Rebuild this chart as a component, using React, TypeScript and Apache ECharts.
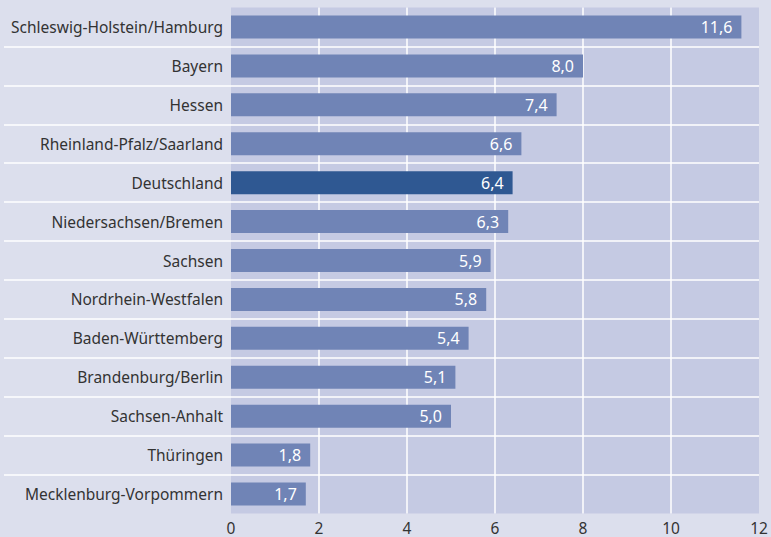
import React, { useEffect, useRef } from "react";
import * as echarts from "echarts";

const categories = [
  "Schleswig-Holstein/Hamburg",
  "Bayern",
  "Hessen",
  "Rheinland-Pfalz/Saarland",
  "Deutschland",
  "Niedersachsen/Bremen",
  "Sachsen",
  "Nordrhein-Westfalen",
  "Baden-Württemberg",
  "Brandenburg/Berlin",
  "Sachsen-Anhalt",
  "Thüringen",
  "Mecklenburg-Vorpommern",
];
const values = [11.6, 8.0, 7.4, 6.6, 6.4, 6.3, 5.9, 5.8, 5.4, 5.1, 5.0, 1.8, 1.7];
const highlight = "Deutschland";
const xTicks = { min: 0, max: 12, interval: 2 };

const PAGE_BG = "#dcdfed";
const PLOT_BG = "#c5cae3";
const BAR = "#7084b6";
const BAR_HL = "#2f5892";
const TEXT = "#333333";
const FONT = "'Noto Sans', sans-serif";

export default function App() {
  const ref = useRef<HTMLDivElement>(null);
  useEffect(() => {
    document.body.style.margin = "0";
    const chart = echarts.init(ref.current!, null, { renderer: "svg" });
    const gridTop = 7.5;
    const gridBottom = 23.5;
    chart.setOption({
      animation: false,
      backgroundColor: PAGE_BG,
      grid: [
        { left: 4, right: 12, top: gridTop, bottom: gridBottom, containLabel: false },
        {
          left: 231,
          right: 12,
          top: gridTop,
          bottom: gridBottom,
          show: true,
          backgroundColor: PLOT_BG,
          borderWidth: 0,
          containLabel: false,
        },
      ],
      xAxis: [
        { gridIndex: 0, type: "value", min: 0, max: 1, show: false },
        {
          gridIndex: 1,
          type: "value",
          min: xTicks.min,
          max: xTicks.max,
          interval: xTicks.interval,
          axisLine: { show: false },
          axisTick: { show: false },
          axisLabel: { color: TEXT, fontSize: 15.5, fontFamily: FONT, margin: 6 },
          splitLine: {
            show: true,
            showMinLine: false,
            showMaxLine: false,
            lineStyle: { color: "#ffffff", width: 1.5 },
          },
        },
      ],
      yAxis: [
        {
          gridIndex: 0,
          type: "category",
          data: categories,
          inverse: true,
          axisLine: { show: false },
          axisTick: { show: false },
          axisLabel: { show: false },
          splitLine: {
            show: true,
            showMinLine: false,
            showMaxLine: false,
            lineStyle: { color: "#ffffff", width: 1.5 },
          },
        },
        {
          gridIndex: 1,
          type: "category",
          data: categories,
          inverse: true,
          axisLine: { show: false },
          axisTick: { show: false },
          splitLine: { show: false },
          axisLabel: { color: TEXT, fontSize: 15.5, fontFamily: FONT, margin: 8 },
        },
      ],
      series: [
        {
          type: "bar",
          xAxisIndex: 1,
          yAxisIndex: 1,
          barWidth: 23,
          data: values.map((v, i) => ({
            value: v,
            itemStyle: { color: categories[i] === highlight ? BAR_HL : BAR },
          })),
          label: {
            show: true,
            position: "insideRight",
            distance: 9,
            color: "#ffffff",
            fontSize: 16,
            fontFamily: FONT,
            formatter: (p: any) => p.value.toFixed(1).replace(".", ","),
          },
        },
      ],
    });
    return () => chart.dispose();
  }, []);
  return <div ref={ref} style={{ width: 771, height: 537 }} />;
}
